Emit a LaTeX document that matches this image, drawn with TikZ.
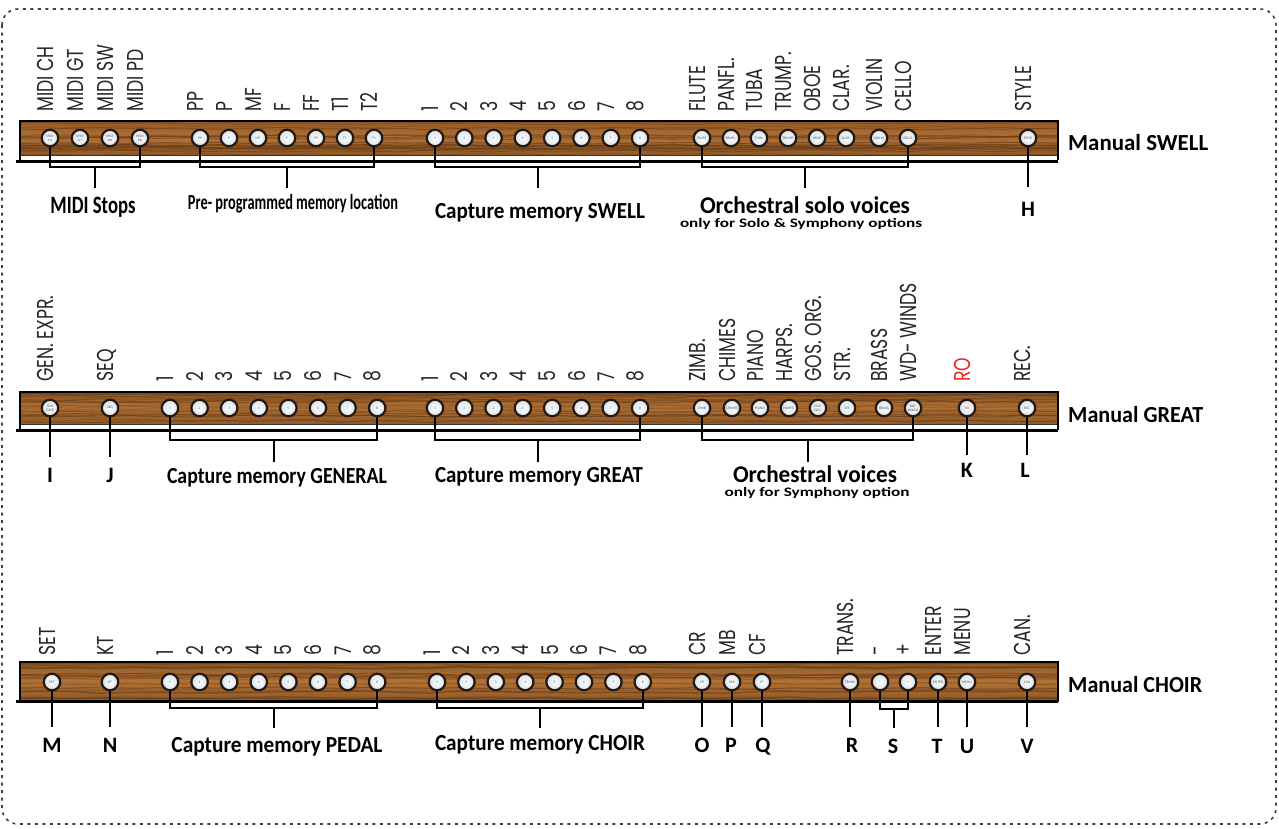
\documentclass[tikz,border=0pt]{standalone}
\usepackage{fontspec}
\setmainfont{Carlito}
\newfontfamily\calfont{Carlito}
\newfontfamily\gothfont{Poppins}[FakeStretch=0.75]
\usetikzlibrary{decorations.pathmorphing}
\definecolor{woodA}{RGB}{178,114,54}
\definecolor{woodB}{RGB}{146,90,40}
\definecolor{grain}{RGB}{90,52,20}
\definecolor{btnfill}{RGB}{214,224,232}
\definecolor{btnring}{RGB}{36,24,16}
\definecolor{rored}{RGB}{230,40,40}
\tikzset{
  rotlab/.style={rotate=90, anchor=west, inner sep=0pt, text height=0.7em, text depth=0pt,
    font=\gothfont\fontsize{23}{23}\selectfont},
  button/.style={circle, minimum size=16.5pt, inner sep=0pt, draw=btnring, line width=2.2pt,
    inner color=white, outer color=btnfill, align=center, text=black!70,
    font=\calfont\fontsize{3.6}{3.8}\selectfont},
  brk/.style={line width=2pt, black},
  stem/.style={line width=2.4pt, black},
  lab/.style={anchor=base, inner sep=0pt},
  letter/.style={anchor=base, inner sep=0pt, font=\calfont\bfseries\fontsize{22}{22}\selectfont},
  grainline/.style={grain, line width=0.8pt, decorate,
    decoration={random steps, segment length=30pt, amplitude=1.2pt}, rounded corners=3pt},
}
% [label colour] name, x, y, inner text, label
\newcommand\Btn[6][black!85]{%
  \node[button] (#2) at ({#3},{#4}) {#5};
  \node[rotlab, text=#1] (#2t) at ({#3},{#4-26}) {#6};
}
% name, x, baseline y, font size, width, text
\newcommand\Lab[6]{%
  \node[lab, font=\calfont\bfseries\fontsize{#4}{#4}\selectfont] (#1) at ({#2},{#3}) {\resizebox{#5pt}{\height}{#6}};
}
% top, wood bottom, seed
\newcommand\Wood[3]{%
  \begin{scope}
    \clip (20,#1) rectangle (1058,#2);
    \shade[top color=woodB, bottom color=woodB, middle color=woodA] (20,#1) rectangle (1058,#2);
    \pgfmathsetseed{#3}
    \foreach \k in {1,...,24}{
      \pgfmathsetmacro\yy{#1+rnd*(#2-#1)}
      \pgfmathsetmacro\op{0.12+0.4*rnd}
      \pgfmathsetmacro\lw{0.5+1.1*rnd}
      \draw[grainline, opacity=\op, line width=\lw pt] (10,\yy) -- (1070,\yy);
    }
  \end{scope}
}
\begin{document}
\begin{tikzpicture}[x=1pt, y=-1pt]
\useasboundingbox (0,0) rectangle (1279,828);
\fill[white] (0,0) rectangle (1279,828);
\draw[black!75, line width=1.6pt, dash pattern=on 3pt off 4.5pt, rounded corners=16pt] (2,9) rectangle (1276,824);

% ---------- strip SWELL ----------
\Wood{121}{155}{11}
\fill[white] (20,155) rectangle (1058,159.5);
\draw[black!80, line width=0.8pt] (20,155) -- (1058,155);
\draw[black, line width=2.4pt] (20,160) -- (20,121) -- (1058,121) -- (1058,160);
\draw[black, line width=3pt] (16,161) -- (1058,161);

\Btn{mch}{50}{138}{MIDI\\CH}{MIDI CH}
\Btn{mgt}{80}{138}{MIDI\\GT}{MIDI GT}
\Btn{msw}{110}{138}{MIDI\\SW}{MIDI SW}
\Btn{mpd}{140}{138}{MIDI\\PD}{MIDI PD}
\Btn{pp}{200}{138}{PP}{PP}
\Btn{p}{229}{138}{P}{P}
\Btn{mf}{258}{138}{MF}{MF}
\Btn{f}{287}{138}{F}{F}
\Btn{ff}{316}{138}{FF}{FF}
\Btn{ta}{345}{138}{T1}{T1}
\Btn{tb}{374}{138}{T2}{T2}
\foreach \i in {1,...,8}{\Btn{s\i}{435+29.3*(\i-1)}{138}{\i}{\i}}
\Btn{fl}{702}{138}{FLUTE}{FLUTE}
\Btn{pa}{731}{138}{PANFL.}{PANFL.}
\Btn{tu}{759}{138}{TUBA}{TUBA}
\Btn{trp}{788}{138}{TRUMP.}{TRUMP.}
\Btn{ob}{817}{138}{OBOE}{OBOE}
\Btn{cl}{846}{138}{CLAR.}{CLAR.}
\Btn{vi}{879}{138}{VIOLIN}{VIOLIN}
\Btn{ce}{908}{138}{CELLO}{CELLO}
\Btn{sty}{1028}{138}{STYLE}{STYLE}

\coordinate (g1) at (95,167);    \coordinate (g1e) at (95,188);
\coordinate (g2) at (287,167);   \coordinate (g2e) at (287,188);
\coordinate (g3) at (537.5,167); \coordinate (g3e) at (537.5,188);
\coordinate (g4) at (805,167);   \coordinate (g4e) at (805,188);
\coordinate (hE) at (1028,187);
\draw[brk] (mch.south) |- (g1) -| (mpd.south); \draw[brk] (g1) -- (g1e);
\draw[brk] (pp.south) |- (g2) -| (tb.south);   \draw[brk] (g2) -- (g2e);
\draw[brk] (s1.south) |- (g3) -| (s8.south);   \draw[brk] (g3) -- (g3e);
\draw[brk] (fl.south) |- (g4) -| (ce.south);   \draw[brk] (g4) -- (g4e);
\draw[stem] (sty.south) -- (hE);

\Lab{l1}{93}{213}{25}{85}{MIDI Stops}
\Lab{l2}{293}{209}{21.5}{210}{Pre- programmed memory location}
\Lab{l3}{540}{218}{23}{210}{Capture memory SWELL}
\Lab{l4}{805}{213}{24}{210}{Orchestral solo voices}
\Lab{l4b}{801}{227}{13}{242}{only for Solo \& Symphony options}
\node[letter] (lH) at (1028,216) {H};
\node[lab, anchor=base west, font=\calfont\bfseries\fontsize{23}{23}\selectfont] (man1) at (1068,150) {\resizebox{140pt}{\height}{Manual SWELL}};

% ---------- strip GREAT ----------
\Wood{392}{424}{23}
\fill[white] (20,424) rectangle (1058,428.5);
\draw[black!80, line width=0.8pt] (20,424) -- (1058,424);
\draw[black, line width=2.4pt] (20,430) -- (20,392) -- (1058,392) -- (1058,430);
\draw[black, line width=3pt] (16,430) -- (1058,430);

\Btn{gen}{50}{408}{GEN\\EXPR}{GEN. EXPR.}
\Btn{seq}{110}{408}{SEQ}{SEQ}
\foreach \i in {1,...,8}{\Btn{ge\i}{170+29.6*(\i-1)}{408}{\i}{\i}}
\foreach \i in {1,...,8}{\Btn{gr\i}{435+29.3*(\i-1)}{408}{\i}{\i}}
\Btn{zi}{702}{408}{ZIMB}{ZIMB.}
\Btn{chi}{732}{408}{CHIMES}{CHIMES}
\Btn{pi}{760}{408}{PIANO}{PIANO}
\Btn{ha}{789}{408}{HARPS.}{HARPS.}
\Btn{go}{818}{408}{GOS.\\ORG.}{GOS. ORG.}
\Btn{st}{847}{408}{STR}{STR.}
\Btn{br}{884}{408}{BRASS}{BRASS}
\Btn{wd}{913}{408}{WD-\\WINDS}{WD- WINDS}
\Btn[rored]{ro}{967}{408}{\textcolor{rored}{RO}}{RO}
\Btn{rec}{1027}{408}{REC}{REC.}

\coordinate (g5) at (273.5,440); \coordinate (g5e) at (273.5,462);
\coordinate (g6) at (537.5,440); \coordinate (g6e) at (537.5,462);
\coordinate (g7) at (807.5,440); \coordinate (g7e) at (807.5,462);
\coordinate (iE) at (50,457); \coordinate (jE) at (110,457);
\coordinate (kE) at (967,455); \coordinate (lE) at (1027,455);
\draw[brk] (ge1.south) |- (g5) -| (ge8.south); \draw[brk] (g5) -- (g5e);
\draw[brk] (gr1.south) |- (g6) -| (gr8.south); \draw[brk] (g6) -- (g6e);
\draw[brk] (zi.south) |- (g7) -| (wd.south);   \draw[brk] (g7) -- (g7e);
\draw[stem] (gen.south) -- (iE);
\draw[stem] (seq.south) -- (jE);
\draw[stem] (ro.south) -- (kE);
\draw[stem] (rec.south) -- (lE);

\node[letter] (lI) at (50,482) {I};
\node[letter] (lJ) at (110,482) {J};
\Lab{l5}{277}{483}{23}{220}{Capture memory GENERAL}
\Lab{l6}{539}{482}{23}{208}{Capture memory GREAT}
\Lab{l7}{815}{482}{24}{164}{Orchestral voices}
\Lab{l7b}{817}{496}{13}{185}{only for Symphony option}
\node[letter] (lK) at (967,477) {K};
\node[letter] (lL) at (1025,477) {L};
\node[lab, anchor=base west, font=\calfont\bfseries\fontsize{23}{23}\selectfont] (man2) at (1068,422) {\resizebox{135pt}{\height}{Manual GREAT}};

% ---------- strip CHOIR ----------
\Wood{662}{700}{37}
\draw[black, line width=2.4pt] (20,702) -- (20,662) -- (1058,662) -- (1058,702);
\draw[black, line width=3.5pt] (16,701.5) -- (1058,701.5);

\Btn{set}{52}{682}{SET}{SET}
\Btn{kt}{110}{682}{KT}{KT}
\foreach \i in {1,...,8}{\Btn{pe\i}{170+29.6*(\i-1)}{682}{\i}{\i}}
\foreach \i in {1,...,8}{\Btn{ch\i}{437+29.4*(\i-1)}{682}{\i}{\i}}
\Btn{cr}{702}{682}{CR}{CR}
\Btn{mb}{732}{682}{MB}{MB}
\Btn{cf}{762}{682}{CF}{CF}
\Btn{tra}{850}{682}{TRANS}{TRANS.}
\Btn{mi}{880}{682}{-}{-}
\Btn{pl}{908}{682}{+}{+}
\Btn{en}{938}{682}{ENTER}{ENTER}
\Btn{me}{967}{682}{MENU}{MENU}
\Btn{ca}{1027}{682}{CAN}{CAN.}

\coordinate (g8) at (273.5,708); \coordinate (g8e) at (273.5,728);
\coordinate (g9) at (540,708);   \coordinate (g9e) at (540,728);
\coordinate (g10) at (894,709);  \coordinate (g10e) at (894,728);
\draw[brk] (pe1.south) |- (g8) -| (pe8.south); \draw[brk] (g8) -- (g8e);
\draw[brk] (ch1.south) |- (g9) -| (ch8.south); \draw[brk] (g9) -- (g9e);
\draw[brk] (mi.south) |- (g10) -| (pl.south);  \draw[stem] (g10) -- (g10e);
\foreach \n/\xx in {set/52, kt/110, cr/702, mb/732, cf/762, tra/850, en/938, me/967, ca/1027}{
  \coordinate (\n E) at (\xx,727);
  \draw[stem] (\n.south) -- (\n E);
}

\node[letter] (lM) at (52,752) {M};
\node[letter] (lN) at (110,752) {N};
\Lab{l8}{277}{752}{23}{211}{Capture memory PEDAL}
\Lab{l9}{540}{750}{23}{210}{Capture memory CHOIR}
\node[letter] (lO) at (702,752) {O};
\node[letter] (lP) at (731,752) {P};
\node[letter] (lQ) at (763,752) {Q};
\node[letter] (lR) at (852,752) {R};
\node[letter] (lS) at (893,753) {S};
\node[letter] (lT) at (937,753) {T};
\node[letter] (lU) at (967,753) {U};
\node[letter] (lV) at (1027,753) {V};
\node[lab, anchor=base west, font=\calfont\bfseries\fontsize{23}{23}\selectfont] (man3) at (1068,692) {\resizebox{134pt}{\height}{Manual CHOIR}};
\end{tikzpicture}
\end{document}
